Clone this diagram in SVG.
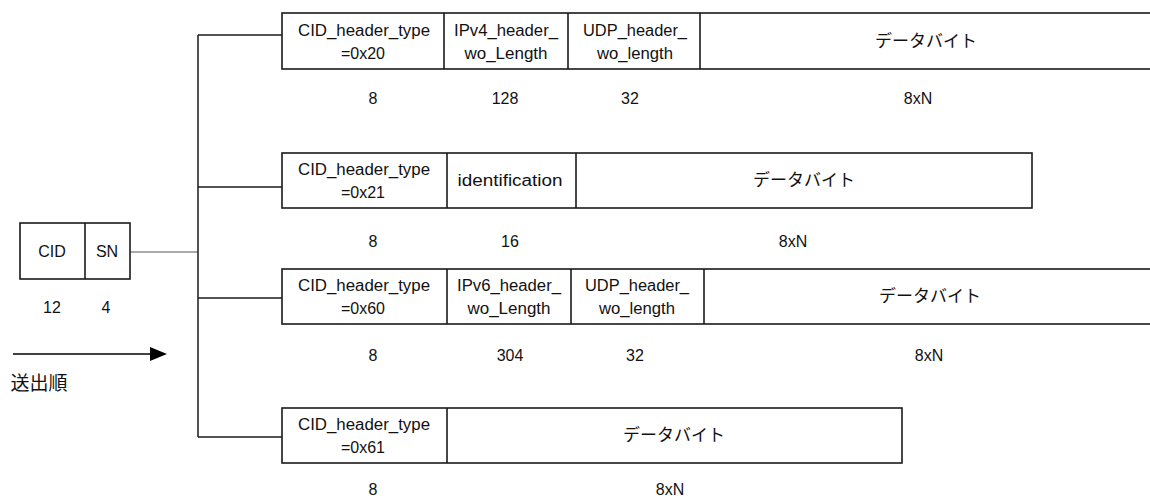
<svg xmlns="http://www.w3.org/2000/svg" width="1150" height="498" viewBox="0 0 1150 498">
<style>
.box{fill:#fff;stroke:#1a1a1a;stroke-width:1.6}
.div{stroke:#1a1a1a;stroke-width:1.6}
.con{stroke:#1a1a1a;stroke-width:1.5;fill:none}
.thin{stroke:#555;stroke-width:1.2;fill:none}
text{font-family:"Liberation Sans","Noto Sans CJK JP",sans-serif;font-size:16px;fill:#111;text-anchor:middle}
.jp{font-size:17px}
</style>
<defs>
<marker id="ah" markerWidth="17" markerHeight="14" refX="0" refY="7" orient="auto" markerUnits="userSpaceOnUse">
<path d="M0,0 L17,7 L0,14 Z" fill="#000"/>
</marker>
</defs>
<rect width="1150" height="498" fill="#fff"/>

<g id="connectors">
<line class="thin" x1="130" y1="252" x2="198" y2="252"/>
<line class="con" x1="198" y1="35" x2="198" y2="437"/>
<line class="con" x1="198" y1="35" x2="282" y2="35"/>
<line class="con" x1="198" y1="187" x2="282" y2="187"/>
<line class="con" x1="198" y1="298" x2="282" y2="298"/>
<line class="con" x1="198" y1="437" x2="282" y2="437"/>
</g>

<g id="cid-sn">
<rect class="box" x="20" y="223" width="110" height="56"/>
<line class="div" x1="85" y1="223" x2="85" y2="279"/>
<text x="52" y="257">CID</text>
<text x="107" y="257">SN</text>
<text x="52" y="313">12</text>
<text x="106" y="313">4</text>
</g>

<g id="order">
<line x1="13" y1="354" x2="150" y2="354" stroke="#000" stroke-width="1.5" marker-end="url(#ah)"/>
<text class="jp" x="39" y="390" style="font-size:19px">送出順</text>
</g>

<g id="fmt-0x20">
<rect class="box" x="282" y="13" width="880" height="56"/>
<line class="div" x1="444" y1="13" x2="444" y2="69"/>
<line class="div" x1="568" y1="13" x2="568" y2="69"/>
<line class="div" x1="700" y1="13" x2="700" y2="69"/>
<text x="364" y="36" textLength="132" lengthAdjust="spacingAndGlyphs">CID_header_type</text>
<text x="363" y="59">=0x20</text>
<text x="506" y="36" textLength="104" lengthAdjust="spacingAndGlyphs">IPv4_header_</text>
<text x="506" y="59" textLength="83" lengthAdjust="spacingAndGlyphs">wo_Length</text>
<text x="635" y="36" textLength="104" lengthAdjust="spacingAndGlyphs">UDP_header_</text>
<text x="635" y="59" textLength="76" lengthAdjust="spacingAndGlyphs">wo_length</text>
<text class="jp" x="926" y="47">データバイト</text>
<text x="373" y="104">8</text>
<text x="505" y="104">128</text>
<text x="630" y="104">32</text>
<text x="918" y="104">8xN</text>
</g>

<g id="fmt-0x21">
<rect class="box" x="282" y="153" width="750" height="55"/>
<line class="div" x1="447" y1="153" x2="447" y2="208"/>
<line class="div" x1="576" y1="153" x2="576" y2="208"/>
<text x="364" y="175" textLength="132" lengthAdjust="spacingAndGlyphs">CID_header_type</text>
<text x="363" y="198">=0x21</text>
<text x="510" y="186" textLength="105" lengthAdjust="spacingAndGlyphs">identification</text>
<text class="jp" x="804" y="186">データバイト</text>
<text x="373" y="247">8</text>
<text x="510" y="247">16</text>
<text x="793" y="247">8xN</text>
</g>

<g id="fmt-0x60">
<rect class="box" x="282" y="269" width="880" height="55"/>
<line class="div" x1="447" y1="269" x2="447" y2="324"/>
<line class="div" x1="571" y1="269" x2="571" y2="324"/>
<line class="div" x1="704" y1="269" x2="704" y2="324"/>
<text x="364" y="291" textLength="132" lengthAdjust="spacingAndGlyphs">CID_header_type</text>
<text x="363" y="314">=0x60</text>
<text x="509" y="291" textLength="104" lengthAdjust="spacingAndGlyphs">IPv6_header_</text>
<text x="509" y="314" textLength="83" lengthAdjust="spacingAndGlyphs">wo_Length</text>
<text x="637" y="291" textLength="104" lengthAdjust="spacingAndGlyphs">UDP_header_</text>
<text x="637" y="314" textLength="76" lengthAdjust="spacingAndGlyphs">wo_length</text>
<text class="jp" x="930" y="302">データバイト</text>
<text x="373" y="361">8</text>
<text x="510" y="361">304</text>
<text x="635" y="361">32</text>
<text x="929" y="361">8xN</text>
</g>

<g id="fmt-0x61">
<rect class="box" x="282" y="408" width="620" height="55"/>
<line class="div" x1="447" y1="408" x2="447" y2="463"/>
<text x="364" y="430" textLength="132" lengthAdjust="spacingAndGlyphs">CID_header_type</text>
<text x="363" y="453">=0x61</text>
<text class="jp" x="674" y="441">データバイト</text>
<text x="373" y="495">8</text>
<text x="670" y="495">8xN</text>
</g>
</svg>
